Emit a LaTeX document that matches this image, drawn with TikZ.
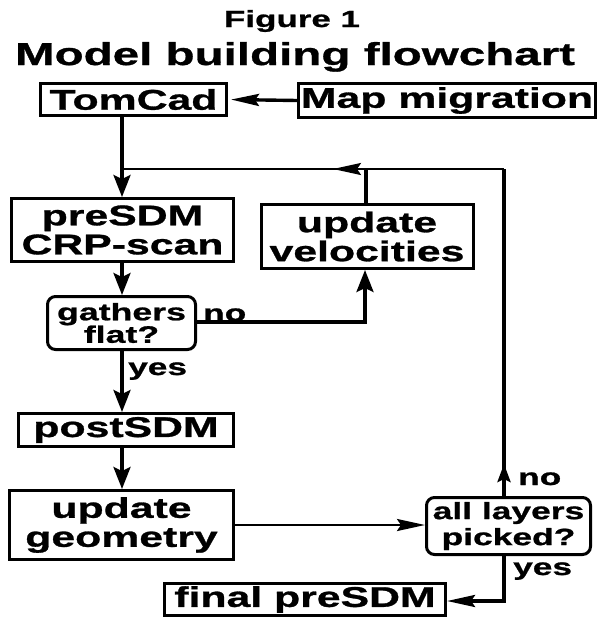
\documentclass[tikz,border=0pt]{standalone}
\usepackage{fontspec}
\usetikzlibrary{arrows.meta}
% wide, heavy bold sans used throughout the chart
\newfontfamily\figfont{Liberation Sans}[FakeStretch=1.5, FakeBold=1]
\newcommand\chartfont[2]{\figfont\bfseries\fontsize{#1}{#2}\selectfont\lineskiplimit=-30pt\relax}

\begin{document}
\begin{tikzpicture}[x=1pt,y=-1pt,
  box/.style={draw, line width=3pt, inner sep=0pt, align=center,
              font=\chartfont{28.5}{29}},
  decision/.style={box, rounded corners=8pt},
  lbl/.style={inner sep=0pt, anchor=base west, font=\chartfont{23.5}{24}},
  conn/.style={line width=3.4pt},
  thinconn/.style={line width=2.4pt},
  vtip/.style={-{Stealth[length=22pt,width=17pt,inset=4pt]}},
  htip/.style={-{Stealth[length=28pt,width=12pt,inset=4pt]}},
  stip/.style={-{Stealth[length=18pt,width=13pt,inset=3pt]}}]
\useasboundingbox (0,0) rectangle (600,619);

% titles
\node[inner sep=0pt, anchor=base, font=\chartfont{23.3}{24}] (fig) at (292,27) {Figure 1};
\node[inner sep=0pt, anchor=base, font=\chartfont{31.7}{32}] (title) at (295,65) {Model building flowchart};

% process boxes
\node[box, minimum width=186pt, minimum height=32pt] (tomcad) at (133.5,99.5) {TomCad};
\node[box, minimum width=297pt, minimum height=34pt] (mapmig) at (447,100.5) {Map migration};
\node[box, minimum width=222pt, minimum height=63pt] (presdm) at (122.5,230) {preSDM\\CRP-scan};
\node[box, minimum width=212pt, minimum height=64pt] (veloc) at (367,236.5) {update\\velocities};
\node[box, minimum width=215pt, minimum height=33pt] (postsdm) at (126,430) {postSDM};
\node[box, minimum width=224pt, minimum height=69pt] (geom) at (121.5,525) {update\\geometry};
\node[box, minimum width=281pt, minimum height=32pt] (final) at (305,599.5) {final preSDM};

% decisions
\node[decision, minimum width=148pt, minimum height=53pt, font=\chartfont{23.8}{22.5}] (gathers) at (121.5,323) {gathers\\flat?};
\node[decision, minimum width=164pt, minimum height=57pt, font=\chartfont{23.6}{26}] (layers) at (508.5,526) {all layers\\picked?};

% routing points
\coordinate (fbL) at (122,169);
\coordinate (fbR) at (504,169);
\coordinate (fbV) at (366,169);
\coordinate (leftTip) at (333,169);
\coordinate (upTip) at (504,464);
\coordinate (noCorner) at (365,322);
\coordinate (yesCorner) at (504,601);

% main line
\draw[conn, htip, shorten >=3pt] (mapmig.west) -- (tomcad.east);
\draw[conn, vtip] (tomcad.south -| fbL) -- (presdm.north -| fbL);
\draw[conn, vtip] (presdm.south -| fbL) -- (gathers.north -| fbL);
\draw[conn, vtip] (gathers.south -| fbL) -- (postsdm.north -| fbL);
\draw[conn, vtip] (postsdm.south -| fbL) -- (geom.north -| fbL);
\draw[thinconn, htip] (geom.east) -- (geom.east -| layers.west);

% velocity loop
\draw[conn, vtip] (gathers.east |- noCorner) -- (noCorner) -- (veloc.south -| noCorner);
\draw[conn] (veloc.north -| fbV) -- (fbV);

% layer loop
\draw[conn] (layers.north -| fbR) -- (fbR);
\draw[conn, stip] (layers.north -| fbR) -- (upTip);
\draw[thinconn] (fbR) -- (fbL);
\draw[thinconn, htip] (fbR) -- (leftTip);

% exit
\draw[conn, htip] (layers.south -| yesCorner) -- (yesCorner) -- (yesCorner -| final.east);

% branch labels
\node[lbl] (noA) at (203,321) {no};
\node[lbl] (yesA) at (128,375) {yes};
\node[lbl] (noB) at (518,485) {no};
\node[lbl] (yesB) at (513,575) {yes};
\end{tikzpicture}
\end{document}
